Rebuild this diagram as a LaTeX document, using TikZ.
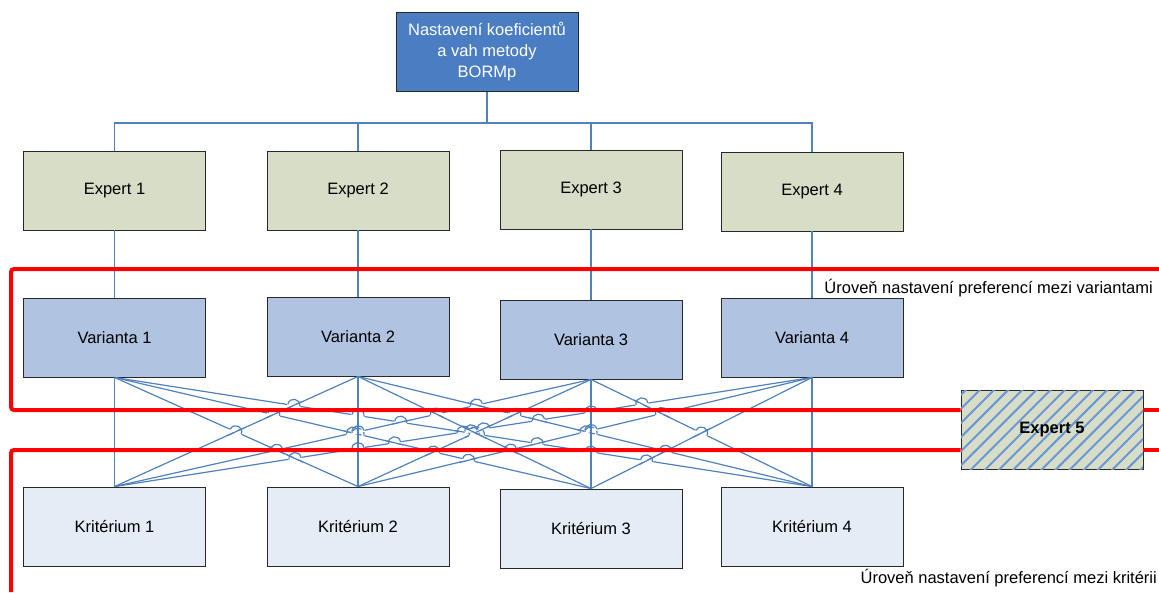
\documentclass[tikz,border=0pt]{standalone}
\usepackage{fontspec}
\setmainfont{Liberation Sans}
\usetikzlibrary{patterns.meta}

\definecolor{headfill}{RGB}{75,125,195}
\definecolor{expfill}{RGB}{215,221,199}
\definecolor{varfill}{RGB}{176,196,226}
\definecolor{krifill}{RGB}{230,236,246}
\definecolor{connblue}{RGB}{79,129,189}
\definecolor{hatchblue}{RGB}{105,150,212}
\definecolor{framegray}{RGB}{40,40,40}

% bottom-centre points of the Varianta boxes and top-centre points of the
% Kriterium boxes, in units of 100
\def\VX{{1.145,3.58,5.91,8.12}}
\def\VY{{3.77,3.76,3.79,3.77}}
\def\KX{{1.145,3.58,5.91,8.12}}
\def\KY{{4.87,4.87,4.89,4.87}}

% line jump: #1,#2 crossing point, #3 angle of the jumping line,
% #4 angle of the line that is jumped over
\newcommand\linehop[4]{%
  \pgfmathsetmacro\hc{cos(#3)}%
  \pgfmathsetmacro\hs{sin(#3)}%
  \pgfmathsetmacro\uc{cos(#4)}%
  \pgfmathsetmacro\us{sin(#4)}%
  \draw[white, line width=3pt] ({#1-6.6*\hc},{#2-6.6*\hs}) -- ({#1+6.6*\hc},{#2+6.6*\hs});
  \draw[conn] ({#1-9*\uc},{#2-9*\us}) -- ({#1+9*\uc},{#2+9*\us});
  \draw[conn] ({#1-6*\hc},{#2-6*\hs})
    .. controls ({#1-6*\hc+8*\hs},{#2-6*\hs-8*\hc}) and ({#1+6*\hc+8*\hs},{#2+6*\hs-8*\hc})
    .. ({#1+6*\hc},{#2+6*\hs});
}

\begin{document}
\begin{tikzpicture}[x=1pt, y=-1pt,
  box/.style={draw=framegray, line width=0.9pt, minimum width=182pt, minimum height=79pt,
    inner sep=0pt, align=center, font=\fontsize{16.5}{21}\selectfont},
  headbox/.style={box, fill=headfill, text=white},
  expbox/.style={box, fill=expfill},
  varbox/.style={box, fill=varfill},
  kribox/.style={box, fill=krifill},
  hatchbox/.style={box, fill=expfill, font=\fontsize{16.5}{21}\selectfont\bfseries,
    postaction={pattern={Lines[angle=45, distance=10pt, line width=2pt]}, pattern color=hatchblue}},
  conn/.style={draw=connblue, line width=1.2pt},
  redline/.style={draw=red, line width=4pt, rounded corners=3pt},
  lbl/.style={font=\fontsize{16.5}{20}\selectfont, inner sep=0pt}]
\useasboundingbox (0,0) rectangle (1159,592);

% boxes
\node[headbox] (top) at (487,52) {Nastavení koeficientů\\a vah metody\\BORMp};

\node[expbox] (e1) at (114.5,190.5) {Expert 1};
\node[expbox] (e2) at (358,190.5) {Expert 2};
\node[expbox] (e3) at (591,189.5) {Expert 3};
\node[expbox] (e4) at (812,191.5) {Expert 4};

\node[varbox] (v1) at (114.5,337.5) {Varianta 1};
\node[varbox] (v2) at (358,336.5) {Varianta 2};
\node[varbox] (v3) at (591,339.5) {Varianta 3};
\node[varbox] (v4) at (812,337.5) {Varianta 4};

\node[kribox] (k1) at (114.5,526.5) {Kritérium 1};
\node[kribox] (k2) at (358,526.5) {Kritérium 2};
\node[kribox] (k3) at (591,528.5) {Kritérium 3};
\node[kribox] (k4) at (812,526.5) {Kritérium 4};

% tree from the method box to the experts
\coordinate (bus) at (487,123);
\draw[conn] (top.south) -- (bus);
\draw[conn] (e1.north) |- (bus) -| (e4.north);
\draw[conn] (e2.north) |- (bus);
\draw[conn] (e3.north) |- (bus);

% experts to variants
\foreach \i in {1,...,4}{
  \draw[conn] (e\i.south) -- (v\i.north);
}

% every variant to every criterion
\foreach \i in {1,...,4}{
  \foreach \j in {1,...,4}{
    \draw[conn] (v\i.south) -- (k\j.north);
  }
}

% jumps where two of these connectors cross; the flatter one jumps
\foreach \a in {0,...,14}{
  \pgfmathtruncatemacro\bfirst{\a+1}
  \foreach \b in {\bfirst,...,15}{
    \pgfmathsetmacro\ax{\VX[int(\a/4)]}
    \pgfmathsetmacro\ay{\VY[int(\a/4)]}
    \pgfmathsetmacro\adx{\KX[mod(\a,4)]-\ax}
    \pgfmathsetmacro\ady{\KY[mod(\a,4)]-\ay}
    \pgfmathsetmacro\bx{\VX[int(\b/4)]}
    \pgfmathsetmacro\by{\VY[int(\b/4)]}
    \pgfmathsetmacro\bdx{\KX[mod(\b,4)]-\bx}
    \pgfmathsetmacro\bdy{\KY[mod(\b,4)]-\by}
    \pgfmathsetmacro\den{\adx*\bdy-\ady*\bdx}
    \pgfmathsetmacro\aden{abs(\den)}
    \ifdim\aden pt>0.005pt
      \pgfmathsetmacro\tpar{((\bx-\ax)*\bdy-(\by-\ay)*\bdx)/\den}
      \pgfmathsetmacro\spar{((\bx-\ax)*\ady-(\by-\ay)*\adx)/\den}
      \pgfmathtruncatemacro\hit{and(and(\tpar>0.02,\tpar<0.98),and(\spar>0.02,\spar<0.98))}
      \ifnum\hit=1
        \pgfmathsetmacro\px{100*(\ax+\tpar*\adx)}
        \pgfmathsetmacro\py{100*(\ay+\tpar*\ady)}
        \pgfmathtruncatemacro\ahop{abs(\ady*\bdx)<abs(\bdy*\adx)}
        \ifnum\ahop=1
          \pgfmathsetmacro\hph{atan(\ady/\adx)}
          \pgfmathsetmacro\uph{atan2(\bdy,\bdx)}
        \else
          \pgfmathsetmacro\hph{atan(\bdy/\bdx)}
          \pgfmathsetmacro\uph{atan2(\ady,\adx)}
        \fi
        \linehop{\px}{\py}{\hph}{\uph}
      \fi
    \fi
  }
}

% expert 5 outside both levels
\node[hatchbox] (x5) at (1052,429.5) {Expert 5};

% level frames
\draw[redline] (1159,269) -- (11,269) -- (11,410) -- (x5.west |- 0,410);
\draw[redline] (x5.east |- 0,410) -- (1159,410);
\draw[redline] (1159,450) -- (x5.east |- 0,450);
\draw[redline] (x5.west |- 0,450) -- (11,450) -- (11,592);

% level captions
\node[lbl, anchor=east] (l1) at (1153,288) {Úroveň nastavení preferencí mezi variantami};
\node[lbl, anchor=east] (l2) at (1157,578) {Úroveň nastavení preferencí mezi kritérii};
\end{tikzpicture}
\end{document}
